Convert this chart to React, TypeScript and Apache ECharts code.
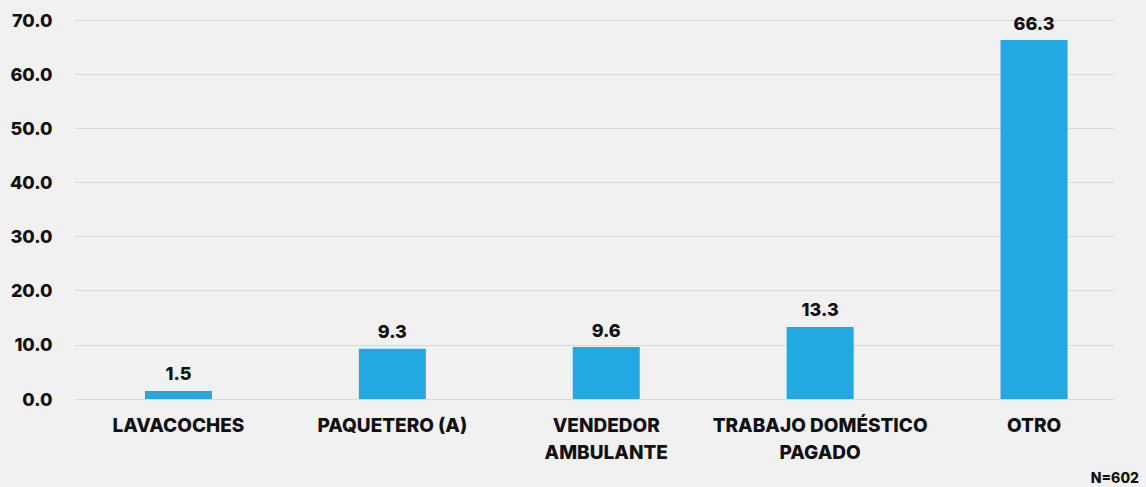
import React, { useEffect, useRef } from "react";
import * as echarts from "echarts";

const categories = ["LAVACOCHES", "PAQUETERO (A)", "VENDEDOR\nAMBULANTE", "TRABAJO DOMÉSTICO\nPAGADO", "OTRO"];
const values = [1.5, 9.3, 9.6, 13.3, 66.3];
const note = "N=602";

export default function App() {
  const ref = useRef<HTMLDivElement>(null);
  useEffect(() => {
    if (!ref.current) return;
    const chart = echarts.init(ref.current, null, { renderer: "svg" });
    const font = "Inter";
    chart.setOption({
      animation: false,
      backgroundColor: "#f1f1f1",
      grid: [
        { left: 71.5, right: 5, top: 20, bottom: 88 },
        { left: 75, right: 32, top: 20, bottom: 88 },
      ],
      xAxis: [
        {
          type: "category",
          gridIndex: 0,
          data: categories,
          axisLine: { show: false },
          axisTick: { show: false },
          axisLabel: {
            color: "#111",
            fontFamily: font,
            fontWeight: 800,
            fontSize: 19,
            lineHeight: 27,
            margin: 13,
            interval: 0,
          },
        },
        { type: "value", gridIndex: 1, show: false, min: 0, max: 1 },
      ],
      yAxis: [
        {
          type: "value",
          gridIndex: 0,
          min: 0,
          max: 70,
          interval: 10,
          axisLabel: {
            color: "#111",
            fontFamily: font,
            fontWeight: 800,
            fontSize: 18,
            margin: 19,
            formatter: (v: number) => v.toFixed(1),
          },
          splitLine: { show: false },
        },
        {
          type: "value",
          gridIndex: 1,
          min: 0,
          max: 70,
          interval: 10,
          axisLabel: { show: false },
          axisLine: { show: false },
          axisTick: { show: false },
          splitLine: { lineStyle: { color: "#d9d9d9", width: 1 } },
        },
      ],
      series: [
        {
          type: "bar",
          data: values,
          barWidth: 67,
          itemStyle: { color: "#22a9e1" },
          label: {
            show: true,
            position: "top",
            distance: 8,
            color: "#111",
            fontFamily: font,
            fontWeight: 800,
            fontSize: 18,
            formatter: (p: any) => Number(p.value).toFixed(1),
          },
          z: 3,
        },
      ],
      graphic: [
        {
          type: "text",
          right: 7,
          bottom: 3,
          style: { text: note, fill: "#111", font: `800 14px ${font}` },
        },
      ],
    });
    return () => chart.dispose();
  }, []);
  return <div ref={ref} style={{ position: "fixed", left: 0, top: 0, width: 1146, height: 487 }} />;
}
